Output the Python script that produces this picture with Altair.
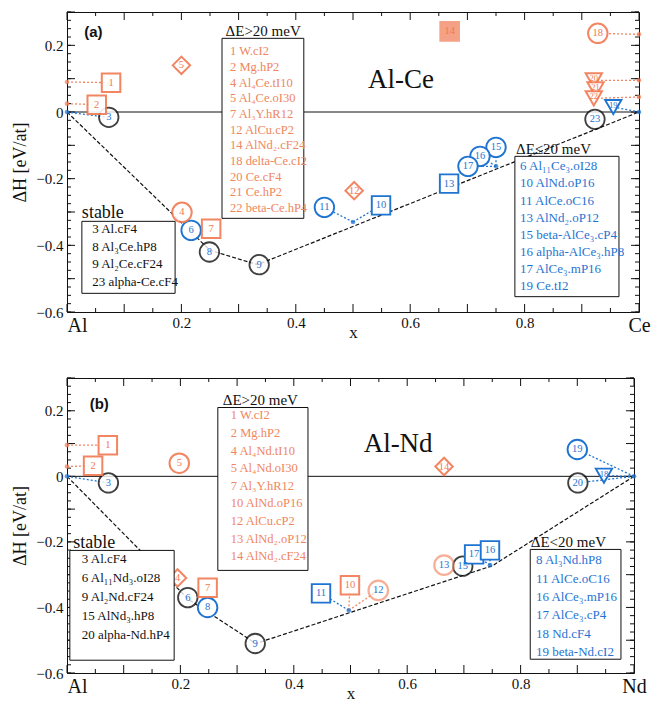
import altair as alt
import pandas as pd

SERIF = "Liberation Serif"
BLACK = "#111111"
BLUE = "#1f74d2"
ORANGE = "#f27a52"
ORANGE_TXT = "#f08660"

# ---------------- Panel (a): Al-Ce ----------------
a_lab = ["3", "8", "9", "23", "6", "11", "15", "16", "17", "10", "13", "19",
         "1", "2", "7", "14", "5", "12", "4", "18", "20", "21", "22"]
a_x = [0.073, 0.249, 0.336, 0.923, 0.217, 0.450, 0.750, 0.722, 0.701, 0.549, 0.668, 0.955,
       0.077, 0.052, 0.252, 0.669, 0.200, 0.502, 0.201, 0.928, 0.921, 0.924, 0.921]
a_y = [-0.016, -0.420, -0.458, -0.022, -0.355, -0.286, -0.106, -0.133, -0.163, -0.280, -0.215, 0.015,
       0.088, 0.022, -0.350, 0.242, 0.140, -0.236, -0.301, 0.236, 0.095, 0.068, 0.041]
a_shape = ["circle"] * 9 + ["square", "square", "triangle-down",
           "square", "square", "square", "square", "diamond", "diamond", "circle", "circle",
           "triangle-down", "triangle-down", "triangle-down"]
a_grp = ["k"] * 4 + ["b"] * 8 + ["o", "o", "o", "of", "o", "o", "o", "o", "o", "o", "o"]

a_hull_x = [0.0, 0.25, 0.333, 1.0]
a_hull_y = [0.0, -0.415, -0.458, 0.0]

a_con_x1 = [0.0, 0.5, 0.5, 0.75, 0.75, 0.75, 1.0, 0.0, 0.0, 1.0, 1.0, 1.0]
a_con_y1 = [0.0, -0.33, -0.33, -0.163, -0.163, -0.163, 0.0, 0.09, 0.025, 0.233, 0.095, 0.045]
a_con_x2 = [0.073, 0.450, 0.549, 0.750, 0.722, 0.701, 0.955, 0.077, 0.052, 0.928, 0.921, 0.921]
a_con_y2 = [-0.016, -0.286, -0.280, -0.106, -0.133, -0.163, 0.015, 0.088, 0.022, 0.236, 0.095, 0.041]
a_con_grp = ["b"] * 7 + ["o"] * 5

a_dot_x = [0.0, 0.5, 0.75, 1.0, 0.0, 0.0, 1.0, 1.0, 1.0]
a_dot_y = [0.0, -0.33, -0.163, 0.0, 0.09, 0.025, 0.233, 0.095, 0.045]
a_dot_grp = ["b"] * 4 + ["o"] * 5

a_stable = ["3 Al.cF4", "8 Al₃Ce.hP8", "9 Al₂Ce.cF24", "23 alpha-Ce.cF4"]
a_high = ["1 W.cI2", "2 Mg.hP2", "4 Al₄Ce.tI10", "5 Al₄Ce.oI30", "7 Al₃Y.hR12",
          "12 AlCu.cP2", "14 AlNd₂.cF24", "18 delta-Ce.cI2", "20 Ce.cF4", "21 Ce.hP2",
          "22 beta-Ce.hP4"]
a_low = ["6 Al₁₁Ce₃.oI28", "10 AlNd.oP16", "11 AlCe.oC16", "13 AlNd₂.oP12",
         "15 beta-AlCe₃.cP4", "16 alpha-AlCe₃.hP8", "17 AlCe₃.mP16", "19 Ce.tI2"]

# ---------------- Panel (b): Al-Nd ----------------
b_lab = ["3", "6", "9", "15", "20", "8", "19", "11", "17", "16", "18",
         "1", "2", "7", "10", "5", "12", "13", "14", "4"]
b_x = [0.073, 0.213, 0.332, 0.698, 0.901, 0.248, 0.900, 0.448, 0.718, 0.746, 0.947,
       0.072, 0.046, 0.248, 0.499, 0.198, 0.549, 0.665, 0.665, 0.195]
b_y = [-0.020, -0.370, -0.510, -0.274, -0.020, -0.400, 0.082, -0.357, -0.238, -0.226, 0.002,
       0.095, 0.032, -0.340, -0.332, 0.040, -0.348, -0.271, 0.030, -0.310]
b_shape = ["circle"] * 7 + ["square", "square", "square", "triangle-down",
           "square", "square", "square", "square", "circle", "circle", "circle", "diamond", "diamond"]
b_grp = ["k"] * 5 + ["b"] * 6 + ["o", "o", "o", "o", "o", "ob", "ob", "o", "o"]

b_hull_x = [0.0, 0.214, 0.333, 0.75, 1.0]
b_hull_y = [0.0, -0.375, -0.510, -0.273, 0.0]

b_con_x1 = [0.0, 0.497, 0.746, 0.746, 1.0, 1.0, 1.0, 0.0, 0.0, 0.497, 0.497]
b_con_y1 = [0.0, -0.409, -0.271, -0.271, 0.0, 0.0, 0.0, 0.095, 0.030, -0.409, -0.409]
b_con_x2 = [0.073, 0.448, 0.746, 0.718, 0.900, 0.947, 0.901, 0.072, 0.046, 0.549, 0.499]
b_con_y2 = [-0.020, -0.357, -0.226, -0.238, 0.082, 0.002, -0.020, 0.095, 0.032, -0.348, -0.332]
b_con_grp = ["b"] * 7 + ["o"] * 4

b_dot_x = [0.0, 0.497, 0.746, 1.0, 0.0, 0.0]
b_dot_y = [0.0, -0.409, -0.271, 0.0, 0.095, 0.030]
b_dot_grp = ["b"] * 4 + ["o"] * 2

b_stable = ["3 Al.cF4", "6 Al₁₁Nd₃.oI28", "9 Al₂Nd.cF24", "15 AlNd₃.hP8", "20 alpha-Nd.hP4"]
b_high = ["1 W.cI2", "2 Mg.hP2", "4 Al₄Nd.tI10", "5 Al₄Nd.oI30", "7 Al₃Y.hR12",
          "10 AlNd.oP16", "12 AlCu.cP2", "13 AlNd₂.oP12", "14 AlNd₂.cF24"]
b_low = ["8 Al₃Nd.hP8", "11 AlCe.oC16", "16 AlCe₃.mP16", "17 AlCe₃.cP4", "18 Nd.cF4",
         "19 beta-Nd.cI2"]

Y_TICKS = [-0.6, -0.5, -0.4, -0.3, -0.2, -0.1, 0.0, 0.1, 0.2, 0.3]
X_TICKS = [0.0, 0.2, 0.4, 0.6, 0.8, 1.0]

GRP_DOMAIN = ["k", "b", "o", "of", "ob"]
STROKE_RANGE = [BLACK, BLUE, ORANGE, ORANGE, ORANGE]
FILL_RANGE = ["white", "white", "white", ORANGE, "white"]
WIDTH_RANGE = [1.8, 2.2, 1.8, 1.8, 3.2]
TEXT_RANGE = [BLACK, BLUE, ORANGE, "white", ORANGE]
SHAPES = ["circle", "square", "diamond", "triangle-down"]


def X(f="x:Q"):
    return alt.X(f, scale=alt.Scale(domain=[0, 1], nice=False, zero=False))


def Y(f="y:Q"):
    return alt.Y(f, scale=alt.Scale(domain=[-0.6, 0.3], nice=False, zero=False))


def legend_lines(items, x0, y0, dy):
    return pd.DataFrame({"t": items, "x": [x0] * len(items),
                         "y": [y0 - i * dy for i in range(len(items))]})


def panel(W, H, right, tag, name, lab, px, py, shp, grp, hx, hy,
          cx1, cy1, cx2, cy2, cgrp, dx, dy_, dgrp,
          stable, high, low, low_head, boxes, heads, sym_size):
    gscale = dict(domain=GRP_DOMAIN)
    xaxis = alt.Axis(
        values=X_TICKS,
        labelExpr=f"datum.value == 0 ? 'Al' : datum.value == 1 ? '{right}' : format(datum.value, '.1f')",
        ticks=False, domain=False, grid=False, labelFont=SERIF,
        labelFontSize={"condition": {"test": "datum.value == 0 || datum.value == 1", "value": 20}, "value": 15},
        labelAlign={"condition": {"test": "datum.value == 0", "value": "left"}, "value": "center"},
        labelFlush=False, labelColor=BLACK, labelPadding=3,
        title="x", titleFont=SERIF, titleFontSize=17, titleFontWeight="normal",
        titleColor=BLACK, titlePadding=-11)
    yaxis = alt.Axis(
        values=Y_TICKS,
        labelExpr="datum.value == 0 ? '0' : format(datum.value, '.1f')",
        ticks=False, domain=False, grid=False, labelFont=SERIF, labelFontSize=15,
        labelColor=BLACK, labelPadding=4,
        title="ΔH [eV/at]", titleFont=SERIF, titleFontSize=18, titleFontWeight="normal",
        titleColor=BLACK, titlePadding=6)

    hull = alt.Chart(pd.DataFrame({"x": hx, "y": hy})).mark_line(
        color=BLACK, strokeDash=[4, 2], strokeWidth=1.2).encode(
        x=alt.X("x:Q", scale=alt.Scale(domain=[0, 1], nice=False, zero=False), axis=xaxis),
        y=alt.Y("y:Q", scale=alt.Scale(domain=[-0.6, 0.3], nice=False, zero=False), axis=yaxis))

    zero = alt.Chart(pd.DataFrame({"y": [0.0]})).mark_rule(color=BLACK, strokeWidth=1).encode(y=Y())

    con = alt.Chart(pd.DataFrame({"x": cx1, "y": cy1, "x2": cx2, "y2": cy2, "g": cgrp})).mark_rule(
        strokeDash=[2, 2], strokeWidth=1.3).encode(
        x=X(), x2="x2:Q", y=Y(), y2="y2:Q",
        color=alt.Color("g:N", scale=alt.Scale(domain=["b", "o"], range=[BLUE, ORANGE]), legend=None),
        opacity=alt.Opacity("g:N", scale=alt.Scale(domain=["b", "o"], range=[1, 0.6]), legend=None))

    dots = alt.Chart(pd.DataFrame({"x": dx, "y": dy_, "g": dgrp})).mark_point(
        filled=True, size=22, shape="circle").encode(
        x=X(), y=Y(),
        color=alt.Color("g:N", scale=alt.Scale(domain=["b", "o"], range=[BLUE, ORANGE]), legend=None))

    mdf = pd.DataFrame({"lab": lab, "x": px, "y": py, "shape": shp, "g": grp})
    marks = alt.Chart(mdf).mark_point(fillOpacity=1).encode(
        x=X(), y=Y(),
        shape=alt.Shape("shape:N", scale=None),
        size=alt.Size("shape:N", scale=alt.Scale(
            domain=SHAPES,
            range=[sym_size, sym_size * 0.7, sym_size * 1.3, sym_size * 0.75]), legend=None),
        stroke=alt.Stroke("g:N", scale=alt.Scale(range=STROKE_RANGE, **gscale), legend=None),
        fill=alt.Fill("g:N", scale=alt.Scale(range=FILL_RANGE, **gscale), legend=None),
        strokeWidth=alt.StrokeWidth("g:N", scale=alt.Scale(range=WIDTH_RANGE, **gscale), legend=None),
        opacity=alt.Opacity("g:N", scale=alt.Scale(range=[1, 1, 0.7, 0.7, 0.75], **gscale), legend=None))
    mtext_main = alt.Chart(mdf[mdf["shape"] != "triangle-down"]).mark_text(
        font=SERIF, baseline="middle", fontSize=10.5).encode(
        x=X(), y=Y(), text="lab:N",
        color=alt.Color("g:N", scale=alt.Scale(range=TEXT_RANGE, **gscale), legend=None))
    mtext_tri = alt.Chart(mdf[mdf["shape"] == "triangle-down"]).mark_text(
        font=SERIF, baseline="middle", fontSize=8.5, dy=-2).encode(
        x=X(), y=Y(), text="lab:N",
        color=alt.Color("g:N", scale=alt.Scale(range=TEXT_RANGE, **gscale), legend=None))

    bdf = pd.DataFrame(boxes, columns=["x", "x2", "y", "y2"])
    rects = alt.Chart(bdf).mark_rect(fill="white", stroke=BLACK, strokeWidth=1).encode(
        x=X(), x2="x2:Q", y=Y(), y2="y2:Q")

    def tlayer(df, color, size, align="left", font=SERIF, weight="normal"):
        return alt.Chart(df).mark_text(font=font, fontSize=size, align=align, baseline="middle",
                                       color=color, fontWeight=weight).encode(
            x=X(), y=Y(), text="t:N")

    st = legend_lines(stable[0], stable[1], stable[2], stable[3])
    hi = legend_lines(high[0], high[1], high[2], high[3])
    lo = legend_lines(low[0], low[1], low[2], low[3])

    hd_stable = pd.DataFrame({"t": ["stable"], "x": [heads[0][0]], "y": [heads[0][1]]})
    hd_high = pd.DataFrame({"t": ["ΔE>20 meV"], "x": [heads[1][0]], "y": [heads[1][1]]})
    hd_low = pd.DataFrame({"t": [low_head], "x": [heads[2][0]], "y": [heads[2][1]]})
    ttl = pd.DataFrame({"t": [name], "x": [heads[3][0]], "y": [heads[3][1]]})
    tg = pd.DataFrame({"t": [tag], "x": [heads[4][0]], "y": [heads[4][1]]})

    # inward ticks on all four sides
    xmaj = [round(i * 0.1, 2) for i in range(11)]
    xmin = [round(0.05 + i * 0.1, 2) for i in range(10)]
    ymaj = [round(-0.6 + i * 0.1, 3) for i in range(10)]
    ymin = [round(-0.6 + i * 0.025, 3) for i in range(37)]

    def xt(vals, L):
        d = pd.DataFrame({"x": vals})
        b = alt.Chart(d).mark_rule(color=BLACK, strokeWidth=1)
        return [b.encode(x=X(), y=alt.value(H), y2=alt.value(H - L)),
                b.encode(x=X(), y=alt.value(0), y2=alt.value(L))]

    def yt(vals, L):
        d = pd.DataFrame({"y": vals})
        b = alt.Chart(d).mark_rule(color=BLACK, strokeWidth=1)
        return [b.encode(y=Y(), x=alt.value(0), x2=alt.value(L)),
                b.encode(y=Y(), x=alt.value(W - L), x2=alt.value(W))]

    ticks = xt(xmaj, 8) + xt(xmin, 4) + yt(ymaj, 8) + yt(ymin, 4)

    layers = [hull, zero] + ticks + [con, dots, marks, mtext_main, mtext_tri, rects,
              tlayer(st, BLACK, 13), tlayer(hi, ORANGE_TXT, 12.5), tlayer(lo, BLUE, 13),
              tlayer(hd_stable, BLACK, 18), tlayer(hd_high, BLACK, 15, align="center"),
              tlayer(hd_low, BLACK, 15), tlayer(ttl, BLACK, 27, align="center"),
              tlayer(tg, BLACK, 15, font="Liberation Sans", weight="bold")]
    return alt.layer(*layers).properties(width=W, height=H)


top = panel(
    572, 300, "Ce", "(a)", "Al-Ce", a_lab, a_x, a_y, a_shape, a_grp, a_hull_x, a_hull_y,
    a_con_x1, a_con_y1, a_con_x2, a_con_y2, a_con_grp, a_dot_x, a_dot_y, a_dot_grp,
    (a_stable, 0.044, -0.352, 0.0525),
    (a_high, 0.285, 0.182, 0.047),
    (a_low, 0.792, -0.163, 0.0514),
    "ΔE≤20 meV",
    [(0.026, 0.189, -0.328, -0.544), (0.271, 0.414, 0.221, -0.319), (0.783, 0.965, -0.133, -0.554)],
    [(0.026, -0.304), (0.343, 0.242), (0.785, -0.112), (0.584, 0.095), (0.030, 0.240)],
    380)

bottom = panel(
    567, 295, "Nd", "(b)", "Al-Nd", b_lab, b_x, b_y, b_shape, b_grp, b_hull_x, b_hull_y,
    b_con_x1, b_con_y1, b_con_x2, b_con_y2, b_con_grp, b_dot_x, b_dot_y, b_dot_grp,
    (b_stable, 0.026, -0.253, 0.058),
    (b_high, 0.289, 0.186, 0.0537),
    (b_low, 0.827, -0.256, 0.056),
    "ΔE<20 meV",
    [(0.005, 0.189, -0.226, -0.561), (0.266, 0.425, 0.21, -0.287), (0.817, 0.977, -0.223, -0.558)],
    [(0.011, -0.204), (0.341, 0.232), (0.818, -0.201), (0.584, 0.10), (0.040, 0.222)],
    420)

chart = alt.vconcat(top, bottom, spacing=36).properties(
    padding={"left": 11, "top": 11, "right": 5, "bottom": 0},
    background="white"
).configure_view(stroke=BLACK, strokeWidth=1)

chart.save("out.html", embed_options={"renderer": "svg", "actions": False})
